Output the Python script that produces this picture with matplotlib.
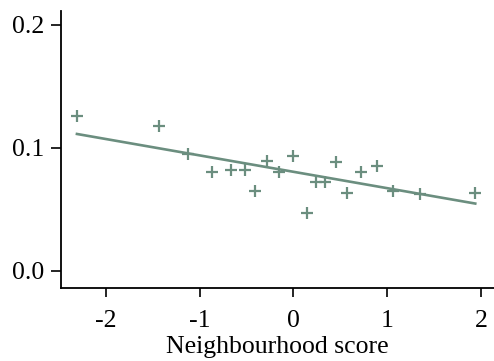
import matplotlib
matplotlib.use("Agg")
import matplotlib.pyplot as plt
import numpy as np

# Binned scatter values
x_bins = [-2.31, -1.43, -1.12, -0.87, -0.67, -0.52, -0.41, -0.28, -0.15, 0.00,
          0.15, 0.24, 0.34, 0.45, 0.57, 0.72, 0.89, 1.06, 1.35, 1.94]
y_bins = [0.126, 0.118, 0.095, 0.080, 0.082, 0.082, 0.065, 0.089, 0.080, 0.093,
          0.047, 0.072, 0.072, 0.088, 0.063, 0.080, 0.085, 0.065, 0.062, 0.063]
# Fitted line (from underlying data)
fit_intercept = 0.0804
fit_slope = -0.0133

x_ticks = [-2, -1, 0, 1, 2]
x_ticklabels = ["-2", "-1", "0", "1", "2"]
y_ticks = [0.0, 0.1, 0.2]
y_ticklabels = ["0.0", "0.1", "0.2"]
x_label = "Neighbourhood score"

color = "#6b8e7f"

plt.rcParams['font.family'] = ['Liberation Serif', 'DejaVu Serif']
fig = plt.figure(figsize=(4.94, 3.61), dpi=100)
ax = fig.add_axes([0.1235, 0.2022, 0.8765, 0.7673])

ax.plot(x_bins, y_bins, linestyle='none', marker='+', markersize=8.5,
        markeredgewidth=1.6, color=color)
xf = np.array([min(x_bins), max(x_bins)])
ax.plot(xf, fit_intercept + fit_slope * xf, color=color, linewidth=1.9)

ax.set_xlim(-2.48, 2.14)
ax.set_ylim(-0.014, 0.211)
ax.set_xticks(x_ticks)
ax.set_xticklabels(x_ticklabels)
ax.set_yticks(y_ticks)
ax.set_yticklabels(y_ticklabels)
ax.tick_params(direction='out', width=1.2, labelsize=18.5)
ax.tick_params(axis='x', length=6.5, pad=9)
ax.tick_params(axis='y', length=7, pad=5)
ax.set_xlabel(x_label, fontsize=18.5, labelpad=3)
for s in ['top', 'right']:
    ax.spines[s].set_visible(False)
for s in ['left', 'bottom']:
    ax.spines[s].set_linewidth(1.3)
fig.savefig("out.png", dpi=100)
